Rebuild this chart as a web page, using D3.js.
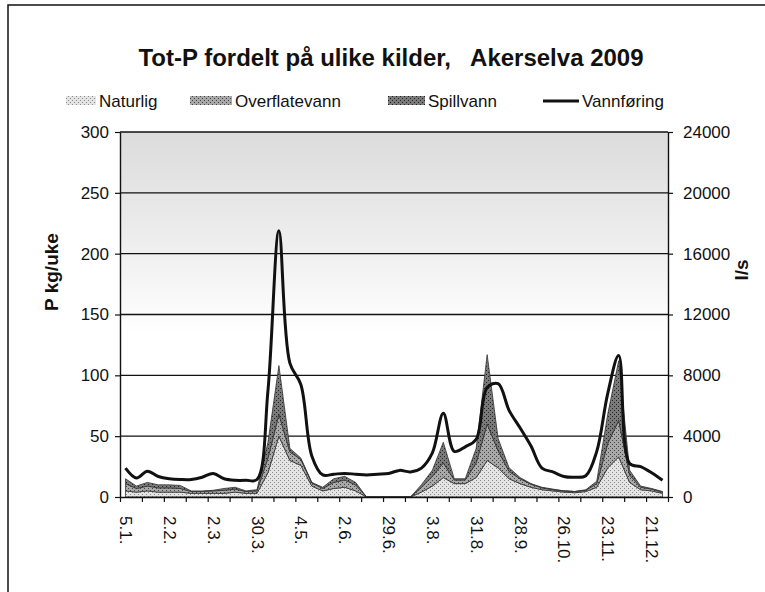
<!DOCTYPE html>
<html>
<head>
<meta charset="utf-8">
<script src="https://cdn.jsdelivr.net/npm/d3@7"></script>
<style>
  body { margin: 0; background: #fff; }
  svg text { font-family: "Liberation Sans", Arial, sans-serif; fill: #111; }
</style>
</head>
<body>
<div id="chart"></div>
<script>
// weekly sampling dates 2009
const dates = ["5.1.","12.1.","19.1.","26.1.","2.2.","9.2.","16.2.","23.2.","2.3.","9.3.",
  "16.3.","23.3.","30.3.","6.4.","20.4.","27.4.","4.5.","11.5.","18.5.","25.5.",
  "2.6.","8.6.","15.6.","22.6.","29.6.","13.7.","20.7.","27.7.","3.8.","10.8.",
  "17.8.","24.8.","31.8.","7.9.","14.9.","21.9.","28.9.","5.10.","12.10.","19.10.",
  "26.10.","2.11.","9.11.","16.11.","23.11.","30.11.","7.12.","14.12.","21.12.","28.12."];

// P kg/uke
const naturlig = [5,4,5,4,4,4,3,3,3,3, 4,3,3,20,50,30,26,9,5,7,
  8,5,0,0,0,0,0,4,9,16, 11,11,16,30,24,15,11,8,6,5,
  4,3.5,4.5,8,24,33,12,6,5,3];
const overflatevann = [6,3,4,3.5,3.5,3,1.5,1.5,2,2.5, 2.5,1.5,2,12,18,7,5,2.5,2,5,
  6,5,0,0,0,0,0,4,8,12, 3,3,12,30,14,6,4,2.5,1.5,1,
  1,1,1,3,20,30,6,2,1.5,1];
const spillvann = [4,2,3,2.5,2.5,2.5,0.5,0.5,0.5,1.5, 1.5,0.5,1,13,40,3,1,0.5,1,3,
  3,2,0,0,0,0,0,2,5,17, 1,1,12,57,10,3,1,0.5,0.5,0.5,
  0,0,0.5,2,24,49,4,1,0.5,0.5];

// l/s
const vannforing = [1900,1250,1700,1350,1200,1150,1150,1300,1550,1200,
  1100,1100,1150,7000,17500,8800,7400,2700,1450,1500,
  1550,1500,1450,1500,1550,1750,1650,1900,2900,5500,
  3000,3300,3800,7200,7450,5700,4550,3350,1900,1650,
  1350,1300,1400,3000,6800,9300,2200,2000,1600,1100];

const leftTicks = [0, 50, 100, 150, 200, 250, 300];
const rightTicks = [0, 4000, 8000, 12000, 16000, 20000, 24000];
const seriesNames = ["Naturlig", "Overflatevann", "Spillvann"];

const width = 765, height = 592;
const margin = {top: 132, right: 97, bottom: 95, left: 120};
const iw = width - margin.left - margin.right;
const ih = height - margin.top - margin.bottom;

const svg = d3.select("#chart").append("svg")
  .attr("width", width).attr("height", height);

// textures
const defs = svg.append("defs");
const makePattern = (id, bg, dot) => {
  const p = defs.append("pattern").attr("id", id)
    .attr("width", 4).attr("height", 4).attr("patternUnits", "userSpaceOnUse");
  p.append("rect").attr("width", 4).attr("height", 4).attr("fill", bg);
  p.append("rect").attr("x", 0).attr("y", 0).attr("width", 1).attr("height", 1).attr("fill", dot);
  p.append("rect").attr("x", 2).attr("y", 2).attr("width", 1).attr("height", 1).attr("fill", dot);
};
makePattern("pNat", "#e4e4e4", "#8a8a8a");
makePattern("pOver", "#a8a8a8", "#444");
makePattern("pSpill", "#7a7a7a", "#222");

const grad = defs.append("linearGradient").attr("id", "bg")
  .attr("x1", 0).attr("y1", 0).attr("x2", 0).attr("y2", 1);
grad.append("stop").attr("offset", "0%").attr("stop-color", "#dcdcdc");
grad.append("stop").attr("offset", "18%").attr("stop-color", "#e6e6e6");
grad.append("stop").attr("offset", "38%").attr("stop-color", "#f3f3f3");
grad.append("stop").attr("offset", "55%").attr("stop-color", "#fff");

// outer frame
svg.append("rect").attr("x", 8).attr("y", 5).attr("width", 780).attr("height", 620)
  .attr("fill", "none").attr("stroke", "#111").attr("stroke-width", 1.5);

// title
svg.append("text").attr("x", 391).attr("y", 66).attr("text-anchor", "middle")
  .style("font-size", "24px").style("font-weight", "bold").style("white-space", "pre")
  .text("Tot-P fordelt på ulike kilder,   Akerselva 2009");

const g = svg.append("g").attr("transform", `translate(${margin.left},${margin.top})`);

const x = d3.scaleLinear().domain([0, dates.length]).range([0, iw]);
const yLeft = d3.scaleLinear().domain([0, 300]).range([ih, 0]);
const yRight = d3.scaleLinear().domain([0, 24000]).range([ih, 0]);

g.append("rect").attr("width", iw).attr("height", ih).attr("fill", "url(#bg)");

// gridlines
g.selectAll(".grid").data(leftTicks.filter(d => d > 0)).enter().append("line")
  .attr("x1", 0).attr("x2", iw)
  .attr("y1", d => yLeft(d)).attr("y2", d => yLeft(d))
  .attr("stroke", "#111").attr("stroke-width", 1.4);

// stacked areas
const rows = dates.map((d, i) => ({
  i: i, Naturlig: naturlig[i], Overflatevann: overflatevann[i], Spillvann: spillvann[i]
}));
const stack = d3.stack().keys(seriesNames)(rows);
const fills = {Naturlig: "url(#pNat)", Overflatevann: "url(#pOver)", Spillvann: "url(#pSpill)"};

const area = d3.area()
  .x(d => x(d.data.i + 0.5))
  .y0(d => yLeft(d[0]))
  .y1(d => yLeft(d[1]));

g.selectAll(".layer").data(stack).enter().append("path")
  .attr("class", "layer")
  .attr("d", area)
  .attr("fill", d => fills[d.key])
  .attr("stroke", "#333").attr("stroke-width", 0.8);

// flow line
const line = d3.line()
  .x((d, i) => x(i + 0.5))
  .y(d => yRight(d))
  .curve(d3.curveCatmullRom.alpha(0.5));

g.append("path").datum(vannforing)
  .attr("d", line)
  .attr("fill", "none").attr("stroke", "#111").attr("stroke-width", 3);

// axes
const leftAxis = g.append("g")
  .call(d3.axisLeft(yLeft).tickValues(leftTicks).tickSize(5).tickPadding(6).tickSizeOuter(0));
const rightAxis = g.append("g").attr("transform", `translate(${iw},0)`)
  .call(d3.axisRight(yRight).tickValues(rightTicks).tickFormat(d3.format("d")).tickSize(5).tickPadding(10).tickSizeOuter(0));
[leftAxis, rightAxis].forEach(a => {
  a.select(".domain").attr("stroke", "#111").attr("stroke-width", 1.4);
  a.selectAll("line").attr("stroke", "#111").attr("stroke-width", 1.2);
  a.selectAll("text").style("font-size", "17px").attr("fill", "#111");
});

const tickIdx = d3.range(0, dates.length + 1, 2);
const xTicks = g.append("g").attr("transform", `translate(0,${ih})`)
  .call(d3.axisBottom(x).tickValues(tickIdx).tickFormat("").tickSize(5).tickSizeOuter(0));
xTicks.select(".domain").attr("stroke", "#111").attr("stroke-width", 1.4);
xTicks.selectAll("line").attr("stroke", "#111").attr("stroke-width", 1.2);

const labelIdx = d3.range(0, dates.length, 4).map(i => i + 0.5);
const xLabels = g.append("g").attr("transform", `translate(0,${ih})`)
  .call(d3.axisBottom(x).tickValues(labelIdx).tickFormat(d => dates[d - 0.5]).tickSize(0));
xLabels.select(".domain").remove();
xLabels.selectAll("text")
  .style("font-size", "17px").style("text-anchor", "start")
  .attr("x", 19).attr("y", 0).attr("dy", "0.35em")
  .attr("transform", "rotate(90)");

// axis titles
svg.append("text").attr("transform", "translate(58,272) rotate(-90)")
  .attr("text-anchor", "middle").style("font-size", "19px").style("font-weight", "bold")
  .text("P kg/uke");
svg.append("text").attr("transform", "translate(748,270) rotate(-90)")
  .attr("text-anchor", "middle").style("font-size", "19px").style("font-weight", "bold")
  .text("l/s");

// legend
const legendItems = [
  {name: "Naturlig", fill: "url(#pNat)", x: 66, w: 30},
  {name: "Overflatevann", fill: "url(#pOver)", x: 190, w: 42},
  {name: "Spillvann", fill: "url(#pSpill)", x: 388, w: 37},
  {name: "Vannføring", line: true, x: 543, w: 36}
];
const leg = svg.append("g");
legendItems.forEach(it => {
  if (it.line) {
    leg.append("line").attr("x1", it.x).attr("x2", it.x + it.w).attr("y1", 101).attr("y2", 101)
      .attr("stroke", "#111").attr("stroke-width", 3);
  } else {
    leg.append("rect").attr("x", it.x).attr("y", 96).attr("width", it.w).attr("height", 9)
      .attr("fill", it.fill);
  }
  leg.append("text").attr("x", it.x + it.w + 3).attr("y", 107)
    .style("font-size", "17px").text(it.name);
});
</script>
</body>
</html>
